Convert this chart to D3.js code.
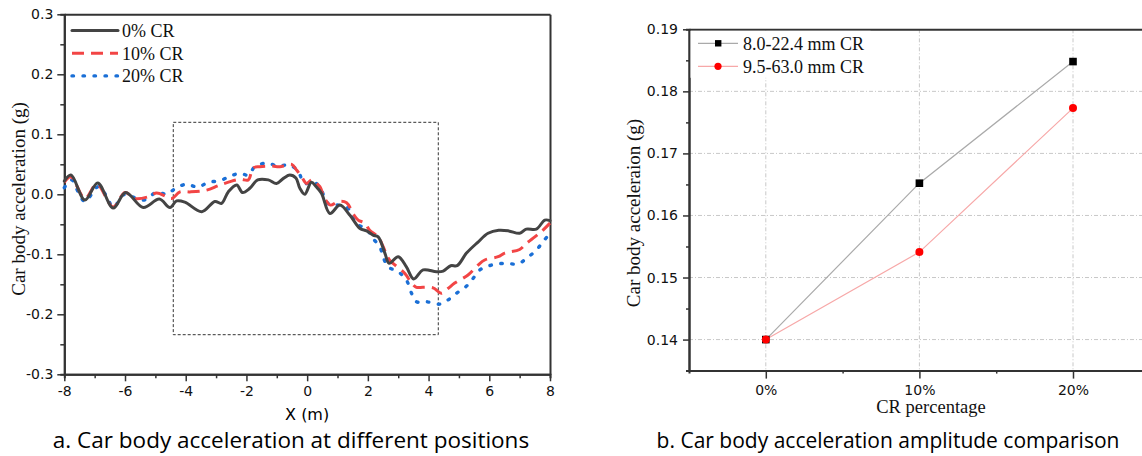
<!DOCTYPE html>
<html>
<head>
<meta charset="utf-8">
<script src="https://cdn.jsdelivr.net/npm/d3@7"></script>
<style>
body { margin: 0; background: #fff; }
svg { display: block; }
.axis text { font-family: "DejaVu Sans", sans-serif; font-size: 14px; fill: #111; }
.axis path, .axis line { stroke: #333; }
.serif { font-family: "Liberation Serif", "Times New Roman", serif; fill: #111; }
.caption { font-family: "Open Sans", Lato, sans-serif; fill: #000; }
</style>
</head>
<body>
<svg></svg>
<script>
// ---- chart a: car body acceleration along X (m) ----
var cr0 = [[-8.0, 0.022], [-7.78, 0.032], [-7.32, -0.0095], [-6.90, 0.019], [-6.39, -0.023], [-5.98, 0.003],
    [-5.40, -0.022], [-4.87, -0.008], [-4.52, -0.022], [-4.30, -0.011], [-4.03, -0.013], [-3.47, -0.029],
    [-3.04, -0.012], [-2.82, -0.015], [-2.60, 0.004], [-2.32, 0.0155], [-2.13, 0.003], [-1.89, 0.010],
    [-1.63, 0.024], [-1.28, 0.024], [-1.01, 0.018], [-0.77, 0.027], [-0.57, 0.032], [-0.37, 0.027],
    [-0.24, 0.010], [-0.08, 0.000], [0.14, 0.020], [0.29, 0.013], [0.47, 0.002], [0.75, -0.032],
    [1.08, -0.018], [1.41, -0.035], [1.74, -0.057], [1.96, -0.061], [2.17, -0.068], [2.34, -0.071],
    [2.56, -0.098], [2.70, -0.115], [3.00, -0.104], [3.27, -0.121], [3.51, -0.141], [3.82, -0.126],
    [4.26, -0.129], [4.48, -0.128], [4.73, -0.119], [4.94, -0.119], [5.25, -0.098], [5.62, -0.080],
    [5.96, -0.065], [6.31, -0.060], [6.64, -0.061], [7.00, -0.065], [7.22, -0.058], [7.55, -0.058],
    [7.83, -0.043], [8.0, -0.044]]

var cr10 = [[-8.0, 0.020], [-7.78, 0.029], [-7.32, -0.007], [-6.93, 0.017], [-6.39, -0.021], [-6.00, 0.003],
    [-5.67, -0.007], [-5.23, -0.004], [-4.96, 0.002], [-4.63, -0.004], [-4.46, -0.007], [-4.19, 0.004],
    [-3.86, 0.004], [-3.31, 0.007], [-2.87, 0.0155], [-2.21, 0.025], [-1.94, 0.024], [-1.78, 0.044],
    [-1.56, 0.046], [-1.16, 0.047], [-0.90, 0.046], [-0.51, 0.050], [-0.35, 0.0405], [-0.18, 0.029],
    [-0.02, 0.018], [0.15, 0.024], [0.31, 0.018], [0.42, 0.0127], [0.58, -0.007], [0.77, -0.018],
    [1.02, -0.012], [1.30, -0.014], [1.51, -0.032], [1.68, -0.043], [1.90, -0.048], [2.06, -0.060],
    [2.34, -0.071], [2.50, -0.087], [2.62, -0.101], [2.72, -0.110], [3.22, -0.132], [3.44, -0.148],
    [3.60, -0.155], [3.82, -0.155], [4.15, -0.156], [4.42, -0.165], [4.64, -0.157], [4.86, -0.148],
    [5.30, -0.1345], [5.63, -0.118], [5.85, -0.1095], [6.29, -0.104], [6.51, -0.098], [7.00, -0.092],
    [7.22, -0.082], [7.50, -0.071], [7.72, -0.062], [8.0, -0.048]]

var cr20 = [[-8.0, 0.011], [-7.76, 0.024], [-7.54, 0.004], [-7.32, -0.012], [-6.88, 0.0127], [-6.60, -0.004],
    [-6.39, -0.022], [-6.06, -0.001], [-5.89, -0.001], [-5.51, -0.0095], [-5.27, -0.008], [-4.96, 0.004],
    [-4.63, 0.000], [-4.36, 0.009], [-3.99, 0.0167], [-3.59, 0.012], [-3.26, 0.020], [-2.87, 0.0227],
    [-2.54, 0.030], [-2.21, 0.035], [-1.94, 0.032], [-1.72, 0.046], [-1.34, 0.052], [-0.95, 0.047],
    [-0.57, 0.049], [-0.30, 0.038], [-0.08, 0.018], [0.22, 0.021], [0.47, 0.007], [0.58, -0.007],
    [0.75, -0.018], [1.02, -0.018], [1.30, -0.021], [1.51, -0.037], [1.68, -0.051], [1.96, -0.057],
    [2.12, -0.071], [2.39, -0.087], [2.50, -0.104], [2.67, -0.121], [3.00, -0.129], [3.27, -0.143],
    [3.44, -0.165], [3.60, -0.179], [3.93, -0.179], [4.37, -0.183], [4.64, -0.176], [4.92, -0.165],
    [5.25, -0.153], [5.47, -0.140], [5.69, -0.126], [6.07, -0.118], [6.51, -0.115], [6.95, -0.116],
    [7.22, -0.107], [7.55, -0.093], [7.77, -0.079], [8.0, -0.065]]

var posSeriesNames = ["0% CR", "10% CR", "20% CR"]
var posXTicks = [-8, -6, -4, -2, 0, 2, 4, 6, 8]
var posYTicks = [-0.3, -0.2, -0.1, 0.0, 0.1, 0.2, 0.3]
// dashed frame drawn round the middle section (x from, x to, y from, y to)
var zoomBox = [-4.41, 4.32, -0.234, 0.12]

// ---- chart b: amplitude against CR percentage ----
var crPercent = [0, 10, 20]
var crTickLabels = ["0%", "10%", "20%"]
var amp8to22 = [0.140, 0.1652, 0.1848]
var amp9to63 = [0.140, 0.1541, 0.1773]
var ampSeriesNames = ["8.0-22.4 mm CR", "9.5-63.0 mm CR"]
var ampYTicks = [0.14, 0.15, 0.16, 0.17, 0.18, 0.19]

var svg = d3.select("svg")
    .attr("width", 1142)
    .attr("height", 456)

var makeTranslateString = function (x, y) {
    return "translate(" + x + "," + y + ")";
}

var drawPositionChart = function () {
    var plot = { left: 64.3, right: 550, top: 14.3, bottom: 374.3 }

    var xScale = d3.scaleLinear().domain([-8, 8]).range([plot.left, plot.right])
    var yScale = d3.scaleLinear().domain([-0.3, 0.3]).range([plot.bottom, plot.top])

    var g = svg.append("g").attr("id", "positionChart")

    // minor ticks first, then the labelled axes
    g.append("g").classed("axis", true)
        .attr("transform", makeTranslateString(0, plot.bottom))
        .call(d3.axisBottom(xScale).tickValues(d3.range(-7, 8, 2)).tickSize(4).tickFormat(""))
    g.append("g").classed("axis", true)
        .attr("transform", makeTranslateString(plot.left, 0))
        .call(d3.axisLeft(yScale).tickValues(d3.range(-0.25, 0.3, 0.1)).tickSize(4).tickFormat(""))

    g.append("g").classed("axis", true)
        .attr("transform", makeTranslateString(0, plot.bottom))
        .call(d3.axisBottom(xScale).tickValues(posXTicks).tickSize(7).tickSizeOuter(0).tickPadding(5)
            .tickFormat(d3.format("d")))
    g.append("g").classed("axis", true)
        .attr("transform", makeTranslateString(plot.left, 0))
        .call(d3.axisLeft(yScale).tickValues(posYTicks).tickSize(7).tickSizeOuter(0).tickPadding(4)
            .tickFormat(d3.format(".1f")))
    g.append("g").classed("axis", true)
        .attr("transform", makeTranslateString(0, plot.top))
        .call(d3.axisTop(xScale).tickValues([]).tickSizeOuter(0))
    g.append("g").classed("axis", true)
        .attr("transform", makeTranslateString(plot.right, 0))
        .call(d3.axisRight(yScale).tickValues([]).tickSizeOuter(0))

    g.selectAll(".axis path").attr("stroke-width", 2)
    g.selectAll(".axis line").attr("stroke-width", 1.5)
    // d3 writes a minus sign; the picture uses a hyphen
    g.selectAll(".axis text").text(function () { return d3.select(this).text().replace("\u2212", "-") })

    g.append("rect")
        .attr("x", xScale(zoomBox[0]))
        .attr("y", yScale(zoomBox[3]))
        .attr("width", xScale(zoomBox[1]) - xScale(zoomBox[0]))
        .attr("height", yScale(zoomBox[2]) - yScale(zoomBox[3]))
        .attr("fill", "none")
        .attr("stroke", "#333")
        .attr("stroke-width", 1)
        .attr("stroke-dasharray", "3,2")

    var lineGenerator = d3.line()
        .x(function (p) { return xScale(p[0]) })
        .y(function (p) { return yScale(p[1]) })
        .curve(d3.curveCatmullRom)

    var styles = [
        { color: "#444444", dash: null, cap: "round" },
        { color: "#f24545", dash: "12,7", cap: "butt" },
        { color: "#1a6fd6", dash: "1.5,9.5", cap: "round" }
    ]
    var series = [cr0, cr10, cr20]

    // draw 20% under 10% under 0%
    for (var i = series.length - 1; i >= 0; i--) {
        g.append("path")
            .datum(series[i])
            .attr("d", lineGenerator)
            .attr("fill", "none")
            .attr("stroke", styles[i].color)
            .attr("stroke-width", i == 2 ? 3.4 : 3)
            .attr("stroke-linecap", styles[i].cap)
            .attr("stroke-dasharray", styles[i].dash)
    }

    var legend = g.append("g")
    posSeriesNames.forEach(function (name, i) {
        var y = 30.5 + i * 22.7
        legend.append("line")
            .attr("x1", 72).attr("x2", 118)
            .attr("y1", y).attr("y2", y)
            .attr("stroke", styles[i].color)
            .attr("stroke-width", i == 2 ? 3.4 : 3)
            .attr("stroke-linecap", styles[i].cap)
            .attr("stroke-dasharray", styles[i].dash)
        legend.append("text")
            .classed("serif", true)
            .attr("x", 122)
            .attr("y", y + 6.5)
            .attr("font-size", 18)
            .text(name)
    })

    g.append("text")
        .classed("serif", true)
        .attr("font-size", 19)
        .attr("text-anchor", "middle")
        .attr("transform", makeTranslateString(25, 199) + " rotate(-90)")
        .text("Car body acceleration (g)")

    g.append("text")
        .attr("font-family", "DejaVu Sans, sans-serif")
        .attr("font-size", 16)
        .attr("text-anchor", "middle")
        .attr("x", (plot.left + plot.right) / 2)
        .attr("y", 420)
        .text("X (m)")

    g.append("text")
        .classed("caption", true)
        .attr("text-anchor", "middle")
        .style("font-size", "22.5px")
        .attr("x", 291)
        .attr("y", 448)
        .text("a. Car body acceleration at different positions")
}

var drawAmplitudeChart = function () {
    var plot = { left: 689, top: 29.3, bottom: 370.6 }

    var xScale = d3.scaleLinear().domain([-5, 25]).range([plot.left, plot.left + 30 * 15.36])
    var yScale = d3.scaleLinear().domain([0.135, 0.19]).range([plot.bottom, plot.top])

    var g = svg.append("g").attr("id", "amplitudeChart")

    var grid = g.append("g").attr("stroke", "#c8c8c8").attr("stroke-width", 1).attr("stroke-dasharray", "4,2,1,2")
    grid.selectAll(".hgrid")
        .data(ampYTicks.slice(0, 5))
        .enter()
        .append("line")
        .attr("x1", plot.left).attr("x2", 1142)
        .attr("y1", function (v) { return yScale(v) })
        .attr("y2", function (v) { return yScale(v) })
    grid.selectAll(".vgrid")
        .data(crPercent)
        .enter()
        .append("line")
        .attr("x1", function (v) { return xScale(v) })
        .attr("x2", function (v) { return xScale(v) })
        .attr("y1", plot.top).attr("y2", plot.bottom)

    g.append("g").classed("axis", true)
        .attr("transform", makeTranslateString(0, plot.bottom))
        .call(d3.axisBottom(xScale).tickValues([5, 15]).tickSize(3).tickFormat(""))
    g.append("g").classed("axis", true)
        .attr("transform", makeTranslateString(plot.left, 0))
        .call(d3.axisLeft(yScale).tickValues(d3.range(0.145, 0.19, 0.01)).tickSize(3).tickFormat(""))

    g.append("g").classed("axis", true)
        .attr("transform", makeTranslateString(0, plot.bottom))
        .call(d3.axisBottom(xScale).tickValues(crPercent).tickSize(8).tickSizeOuter(0).tickPadding(6)
            .tickFormat(function (d, i) { return crTickLabels[i] }))
    g.append("g").classed("axis", true)
        .attr("transform", makeTranslateString(plot.left, 0))
        .call(d3.axisLeft(yScale).tickValues(ampYTicks).tickSize(6).tickSizeOuter(0).tickPadding(5)
            .tickFormat(d3.format(".2f")))
    g.append("g").classed("axis", true)
        .attr("transform", makeTranslateString(0, plot.top))
        .call(d3.axisTop(xScale).tickValues([]).tickSizeOuter(0))

    g.selectAll(".axis path").attr("stroke-width", 2).attr("stroke", "#444")
    g.selectAll(".axis line").attr("stroke-width", 1.5).attr("stroke", "#444")

    var lineGenerator = d3.line()
        .x(function (v, i) { return xScale(crPercent[i]) })
        .y(function (v) { return yScale(v) })

    g.append("path")
        .datum(amp8to22)
        .attr("d", lineGenerator)
        .attr("fill", "none")
        .attr("stroke", "#aaaaaa")
        .attr("stroke-width", 1.2)
    g.append("path")
        .datum(amp9to63)
        .attr("d", lineGenerator)
        .attr("fill", "none")
        .attr("stroke", "#f7a8a8")
        .attr("stroke-width", 1.2)

    g.selectAll(".sq")
        .data(amp8to22)
        .enter()
        .append("rect")
        .attr("x", function (v, i) { return xScale(crPercent[i]) - 3.8 })
        .attr("y", function (v) { return yScale(v) - 3.8 })
        .attr("width", 7.6)
        .attr("height", 7.6)
        .attr("fill", "#000")
    g.selectAll(".dot")
        .data(amp9to63)
        .enter()
        .append("circle")
        .attr("cx", function (v, i) { return xScale(crPercent[i]) })
        .attr("cy", function (v) { return yScale(v) })
        .attr("r", 4)
        .attr("fill", "#f00")

    // legend with white backing
    g.append("rect")
        .attr("x", plot.left + 1.5).attr("y", plot.top + 1.5)
        .attr("width", 180).attr("height", 47)
        .attr("fill", "#fff")
    var rows = [{ color: "#aaaaaa", mark: "square" }, { color: "#f7a8a8", mark: "circle" }]
    ampSeriesNames.forEach(function (name, i) {
        var y = 43.3 + i * 23
        g.append("line")
            .attr("x1", 698).attr("x2", 738)
            .attr("y1", y).attr("y2", y)
            .attr("stroke", rows[i].color)
            .attr("stroke-width", 1.2)
        if (rows[i].mark == "square") {
            g.append("rect").attr("x", 715).attr("y", y - 3.2).attr("width", 6.4).attr("height", 6.4).attr("fill", "#000")
        } else {
            g.append("circle").attr("cx", 718).attr("cy", y).attr("r", 3.6).attr("fill", "#f00")
        }
        g.append("text")
            .classed("serif", true)
            .attr("font-size", 18)
            .attr("x", 743)
            .attr("y", y + 6.5)
            .text(name)
    })

    g.append("text")
        .classed("serif", true)
        .attr("font-size", 19)
        .attr("text-anchor", "middle")
        .attr("transform", makeTranslateString(640, 213) + " rotate(-90)")
        .text("Car body acceleraion (g)")

    g.append("text")
        .classed("serif", true)
        .attr("font-size", 18.5)
        .attr("text-anchor", "middle")
        .attr("x", 931)
        .attr("y", 413)
        .text("CR percentage")

    g.append("text")
        .classed("caption", true)
        .attr("text-anchor", "middle")
        .style("font-size", "21px")
        .attr("x", 888)
        .attr("y", 448)
        .text("b. Car body acceleration amplitude comparison")
}

drawPositionChart()
drawAmplitudeChart()
</script>
</body>
</html>
